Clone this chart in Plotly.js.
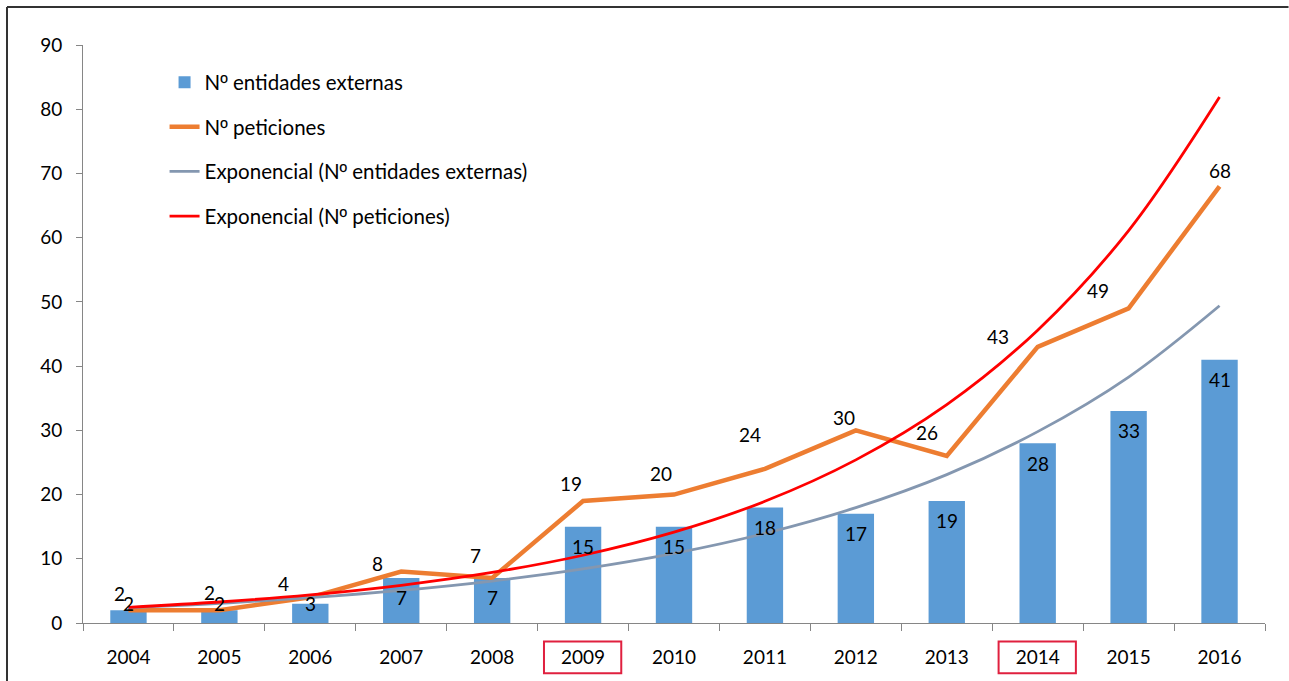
<!DOCTYPE html>
<html>
<head>
<meta charset="utf-8">
<script src="https://cdn.plot.ly/plotly-3.0.1.min.js"></script>
<style>
  html, body { margin: 0; padding: 0; background: #ffffff; overflow: hidden; }
  #chart { width: 1289px; height: 681px; }
</style>
</head>
<body>
<div id="chart"></div>
<script>
// ---- data ----
const years = ['2004','2005','2006','2007','2008','2009','2010','2011','2012','2013','2014','2015','2016'];
const entidades = [2, 2, 3, 7, 7, 15, 15, 18, 17, 19, 28, 33, 41];
const peticiones = [2, 2, 4, 8, 7, 19, 20, 24, 30, 26, 43, 49, 68];
// exponential trendlines at each year
const trendEntidades = [2.38, 3.06, 3.94, 5.07, 6.53, 8.41, 10.83, 13.95, 17.96, 23.1, 29.8, 38.3, 49.4];
const trendPeticiones = [2.44, 3.27, 4.38, 5.87, 7.87, 10.55, 14.14, 18.95, 25.4, 34.0, 45.6, 61.1, 81.9];
const highlighted = ['2009', '2014'];
const seriesNames = ['Nº entidades externas', 'Nº peticiones',
  'Exponencial (Nº entidades externas)', 'Exponencial (Nº peticiones)'];

// label nudges (pixels) for the "Nº peticiones" labels, as placed in the reference
const petLabelDx = [-9, -10, -27, -24, -17, -12, -13, -15, -12, -20, -40, -31, 0];
const petLabelDy = [17, 18, 14, 8, 23, 17, 21, 34, 13, 24, 10, 18, 16];

const LFONT = 'Lato, "Noto Sans", sans-serif';
const AXIS_GRAY = '#868686';
// render the ordinal indicator with a face that draws it underlined
const ord = s => s.replace(/º/g, '<span style="font-family:\'Liberation Sans\'">º</span>');

const traces = [
  {
    type: 'bar', name: ord(seriesNames[0]), x: years, y: entidades,
    marker: { color: '#5B9BD5' }, legendgroup: 'a'
  },
  {
    type: 'scatter', mode: 'lines', name: ord(seriesNames[1]), x: years, y: peticiones,
    line: { color: '#ED7D31', width: 4.5 }, legendgroup: 'b'
  },
  {
    type: 'scatter', mode: 'lines', name: ord(seriesNames[2]), x: years, y: trendEntidades,
    line: { color: '#8497B0', width: 2.8, shape: 'spline' }, legendgroup: 'c'
  },
  {
    type: 'scatter', mode: 'lines', name: ord(seriesNames[3]), x: years, y: trendPeticiones,
    line: { color: '#FF0000', width: 2.8, shape: 'spline' }, legendgroup: 'd'
  }
];

const annotations = [];
for (let i = 0; i < years.length; i++) {
  annotations.push({
    x: i, y: Math.max(entidades[i] - 3.1, 3), xref: 'x', yref: 'y',
    text: String(entidades[i]), showarrow: false,
    font: { family: LFONT, size: 19, color: '#000000' }
  });
  annotations.push({
    x: i, y: peticiones[i], xref: 'x', yref: 'y',
    xshift: petLabelDx[i], yshift: petLabelDy[i],
    text: String(peticiones[i]), showarrow: false,
    font: { family: LFONT, size: 19, color: '#000000' }
  });
}

const shapes = highlighted.map(yr => {
  const idx = years.indexOf(yr);
  return {
    type: 'rect', xref: 'x', yref: 'paper',
    x0: idx - 0.43, x1: idx + 0.42, y0: -0.087, y1: -0.032,
    line: { color: '#E0203F', width: 2 }, fillcolor: 'rgba(0,0,0,0)', layer: 'above'
  };
});
// outer chart frame: left and top edges (the rest lies outside the picture)
shapes.push({ type: 'line', xref: 'paper', yref: 'paper',
  x0: -0.0643, x1: -0.0643, y0: -0.11, y1: 1.0657, line: { color: '#333333', width: 2 } });
shapes.push({ type: 'line', xref: 'paper', yref: 'paper',
  x0: -0.0643, x1: 1.0199, y0: 1.0657, y1: 1.0657, line: { color: '#333333', width: 2 } });

const layout = {
  width: 1289, height: 681,
  margin: { l: 83, r: 24, t: 45, b: 58, pad: 0 },
  paper_bgcolor: '#ffffff', plot_bgcolor: '#ffffff',
  font: { family: LFONT, size: 19, color: '#000000' },
  showlegend: true,
  bargap: 0.6,
  legend: {
    x: 0.069, y: 0.97, xanchor: 'left', yanchor: 'top',
    bgcolor: 'rgba(255,255,255,0)', borderwidth: 0,
    font: { family: LFONT, size: 20.5, color: '#000000' },
    traceorder: 'grouped', tracegroupgap: 15, itemwidth: 30
  },
  xaxis: {
    type: 'category', range: [-0.5, 12.5], fixedrange: true,
    showline: true, linecolor: AXIS_GRAY, linewidth: 1,
    ticks: 'outside', ticklen: 7, tickcolor: AXIS_GRAY, tickson: 'boundaries',
    showgrid: false, zeroline: false, ticklabelstandoff: 17,
    tickfont: { family: LFONT, size: 19, color: '#000000' }
  },
  yaxis: {
    range: [0, 90], dtick: 10, tick0: 0, fixedrange: true,
    showline: true, linecolor: AXIS_GRAY, linewidth: 1,
    ticks: 'outside', ticklen: 6, tickcolor: AXIS_GRAY,
    showgrid: false, zeroline: false, ticklabelstandoff: 10,
    tickfont: { family: LFONT, size: 19, color: '#000000' }
  },
  annotations: annotations,
  shapes: shapes
};

Plotly.newPlot('chart', traces, layout, { displayModeBar: false, staticPlot: true });
</script>
</body>
</html>
